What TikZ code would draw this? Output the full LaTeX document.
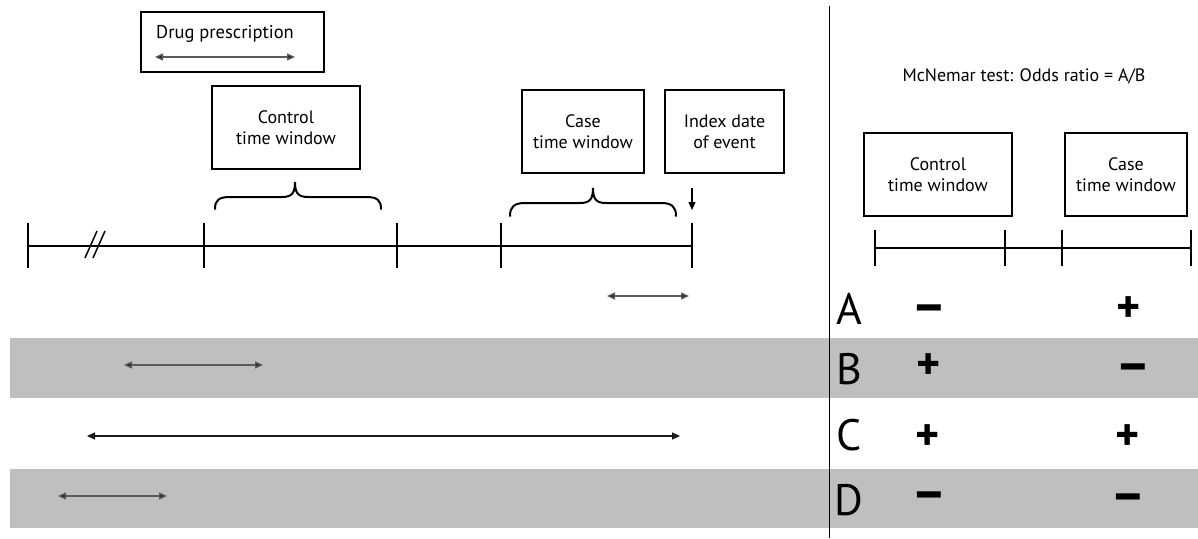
\documentclass[tikz,border=0pt]{standalone}
\usepackage{fontspec}
\setmainfont{PT Sans}
\usetikzlibrary{arrows.meta}
\begin{document}
\begin{tikzpicture}[x=1pt,y=-1pt,
  box/.style={draw, line width=1.4pt, inner sep=0pt, align=center, font=\fontsize{18}{21}\selectfont},
  lbl/.style={align=center, inner sep=0pt, font=\fontsize{18.5}{21}\selectfont},
  axis/.style={line width=1.4pt},
  brc/.style={line width=2pt, line cap=round},
  span/.style={line width=1.3pt, draw=black!65, {Triangle[length=8pt,width=7pt,fill=black!85]}-{Triangle[length=8pt,width=7pt,fill=black!85]}},
  letter/.style={anchor=base, inner sep=0pt, font=\fontsize{44}{44}\selectfont},
  plus/.style={anchor=base, inner sep=0pt, font=\fontsize{46}{46}\selectfont\bfseries},
  minus/.style={anchor=base, inner sep=0pt, font=\fontsize{54}{54}\selectfont\bfseries},
  band/.style={fill=black!25, draw=none}
]
\useasboundingbox (0,0) rectangle (1198,538);
% bands
\fill[band] (10,337.5) rectangle (1198,397.5);
\fill[band] (10,469) rectangle (1198,527.5);
% divider
\coordinate (dtop) at (829,6);
\coordinate (dbot) at (829,538);
\draw[line width=1pt] (dtop) -- (dbot);

% drug prescription
\node[draw, line width=1.4pt, minimum width=183, minimum height=60, inner sep=0pt] (drug) at (232.5,42) {};
\node[lbl] (drugtxt) at (225,34) {Drug prescription};
\coordinate (dp1) at (155,57);
\coordinate (dp2) at (295,57);
\draw[span] (dp1) -- (dp2);

% boxes
\node[box, minimum width=148, minimum height=83] (ctrl) at (286,127.5) {Control\\time window};
\node[box, minimum width=122, minimum height=83] (case) at (583,131.5) {Case\\time window};
\node[box, minimum width=119, minimum height=83] (index) at (724.5,131.5) {Index date\\of event};

% braces
\draw[brc] (215,209) .. controls (215,200) and (219,197) .. (230,197) -- (282,197)
  .. controls (292,197) and (295,193) .. (295,182)
  .. controls (295,193) and (298,197) .. (308,197) -- (366,197)
  .. controls (377,197) and (381,200) .. (381,209);
\draw[brc] (510,216) .. controls (510,207) and (514,203) .. (525,203) -- (580,203)
  .. controls (590,203) and (593,199) .. (593,188)
  .. controls (593,199) and (596,203) .. (606,203) -- (661,203)
  .. controls (672,203) and (676,207) .. (676,216);

% index arrow
\coordinate (ia1) at (692,188);
\coordinate (ia2) at (692,210);
\draw[line width=1.2pt, -{Triangle[length=8pt,width=7pt]}] (ia1) -- (ia2);

% timeline
\coordinate (t0) at (28,246);
\coordinate (t1) at (204,246);
\coordinate (t2) at (397,246);
\coordinate (t3) at (501,246);
\coordinate (t4) at (692,246);
\draw[axis] (t0) -- (t4);
\foreach \t in {t0,t1,t2,t3,t4} \draw[axis] (\t) ++(0,-23) -- ++(0,45);
\draw[line width=1.5pt] (85,258) -- (97,231);
\draw[line width=1.5pt] (93,258) -- (105,231);

% row arrows
\coordinate (a1) at (607,296); \coordinate (a2) at (689,296);
\coordinate (b1) at (124,365); \coordinate (b2) at (263,365);
\coordinate (c1) at (87,436); \coordinate (c2) at (680,436);
\coordinate (d1) at (58,496); \coordinate (d2) at (167,496);
\draw[span] (a1) -- (a2);
\draw[span] (b1) -- (b2);
\draw[span, draw=black!90] (c1) -- (c2);
\draw[span] (d1) -- (d2);

% right panel
\node[inner sep=0pt, font=\fontsize{18}{21}\selectfont] (mcn) at (1024,76) {McNemar test: Odds ratio = A/B};
\node[box, minimum width=148, minimum height=83] (rctrl) at (938,174.5) {Control\\time window};
\node[box, minimum width=122, minimum height=83] (rcase) at (1126,174.5) {Case\\time window};
\coordinate (r0) at (875,248);
\coordinate (r1) at (1005,248);
\coordinate (r2) at (1062,248);
\coordinate (r3) at (1191,248);
\draw[axis] (r0) -- (r3);
\foreach \t in {r0,r1,r2,r3} \draw[axis] (\t) ++(0,-18) -- ++(0,36);

% letters
\node[letter] (A) at (849,324) {A};
\node[letter] (B) at (849,384) {B};
\node[letter] (C) at (849,450) {C};
\node[letter] (D) at (849,515) {D};

% signs
\node[minus] (am) at (929,323) {–};
\node[plus] (ap) at (1129,322) {+};
\node[plus] (bp) at (929,379) {+};
\node[minus] (bm) at (1133,382) {–};
\node[plus] (cp) at (928,450) {+};
\node[plus] (cq) at (1128,450) {+};
\node[minus] (dm) at (929,510) {–};
\node[minus] (dn) at (1128,512) {–};
\end{tikzpicture}
\end{document}
